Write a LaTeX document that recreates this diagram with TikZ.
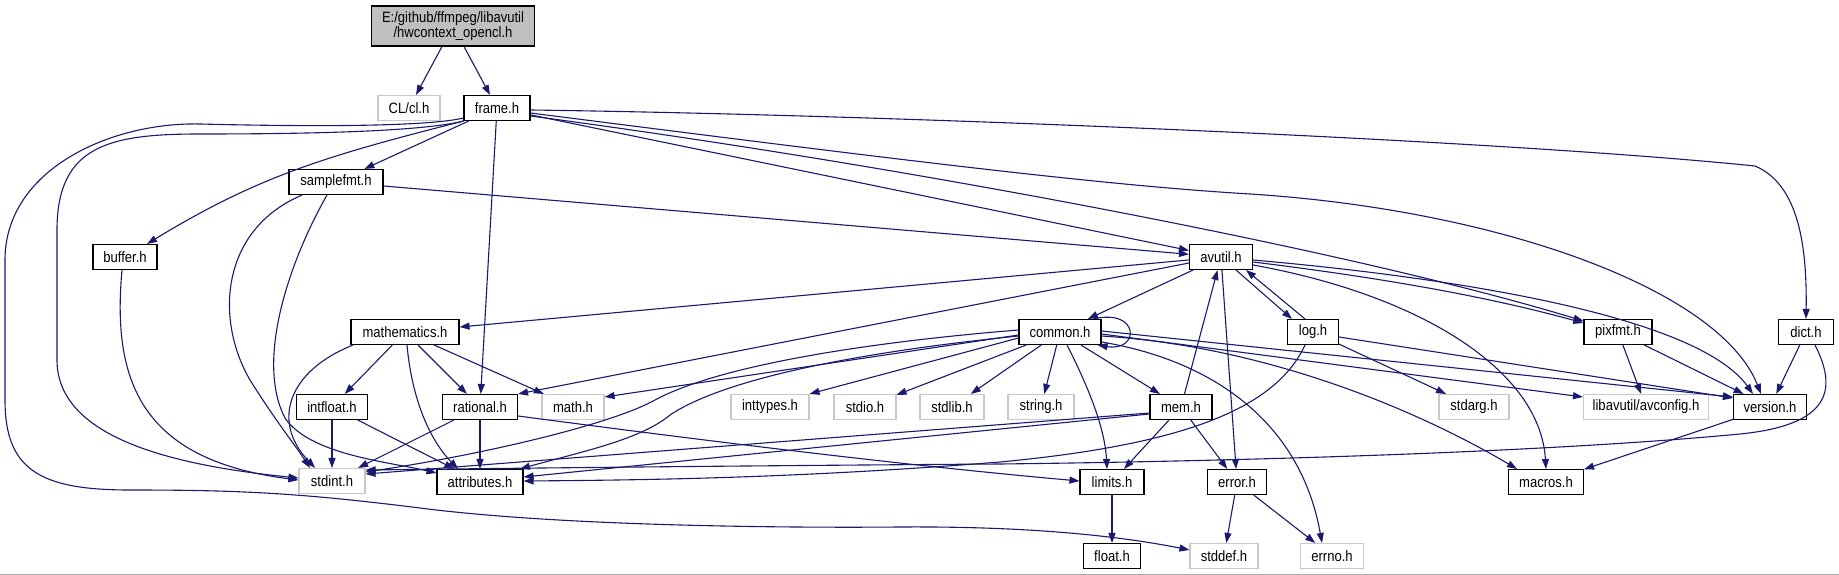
\documentclass[tikz,border=0pt]{standalone}
\usepackage{fontspec}
\setmainfont{Liberation Sans}[FakeStretch=0.87]
\usepackage{tikz}
\usetikzlibrary{arrows.meta}
\definecolor{edgeblue}{RGB}{25,25,112}
\definecolor{extgray}{RGB}{200,200,200}
\definecolor{rootgray}{RGB}{191,191,191}
\definecolor{rulegray}{RGB}{170,170,170}

\begin{document}
\begin{tikzpicture}[x=1pt,y=-1pt,
  every node/.style={font=\fontsize{15}{15}\selectfont,align=center,minimum height=25pt,inner xsep=3pt,inner ysep=0pt,fill=white},
  doc/.style={draw=black,line width=1.1pt},
  ext/.style={draw=extgray,line width=1.1pt},
  dep/.style={draw=edgeblue,line width=1.1pt,-{Triangle[length=10pt,width=7pt]}}]
\useasboundingbox (0,0) rectangle (1839,575);
\fill[white] (0,0) rectangle (1839,575);
\draw[rulegray,line width=1pt] (0,574.5) -- (1839,574.5);

\node[doc,fill=rootgray,minimum width=163pt,minimum height=40pt] (root) at (453,26) {E:/github/ffmpeg/libavutil\\/hwcontext\_opencl.h};
\node[ext,minimum width=62pt] (cl) at (409,108) {CL/cl.h};
\node[doc,minimum width=66pt] (frame) at (497,108) {frame.h};
\node[doc,minimum width=94pt] (samplefmt) at (336,182) {samplefmt.h};
\node[doc,minimum width=64pt] (buffer) at (125,257) {buffer.h};
\node[doc,minimum width=63pt] (avutil) at (1221,257) {avutil.h};
\node[doc,minimum width=108pt] (mathematics) at (405,332) {mathematics.h};
\node[doc,minimum width=82pt] (common) at (1060,332) {common.h};
\node[doc,minimum width=51pt] (logh) at (1313,332) {log.h};
\node[doc,minimum width=68pt] (pixfmt) at (1618,332) {pixfmt.h};
\node[doc,minimum width=55pt] (dict) at (1806,332) {dict.h};
\node[doc,minimum width=71pt] (intfloat) at (332,407) {intfloat.h};
\node[doc,minimum width=75pt] (rational) at (480,407) {rational.h};
\node[ext,minimum width=62pt] (mathh) at (573,407) {math.h};
\node[ext,minimum width=78pt] (inttypes) at (770,407) {inttypes.h};
\node[ext,minimum width=62pt] (stdio) at (865,407) {stdio.h};
\node[ext,minimum width=64pt] (stdlib) at (952,407) {stdlib.h};
\node[ext,minimum width=66pt] (stringh) at (1041,407) {string.h};
\node[doc,minimum width=62pt] (mem) at (1181,407) {mem.h};
\node[ext,minimum width=70pt] (stdarg) at (1474,407) {stdarg.h};
\node[ext,minimum width=125pt] (avconfig) at (1646,407) {libavutil/avconfig.h};
\node[doc,minimum width=73pt] (version) at (1770,407) {version.h};
\node[ext,minimum width=66pt] (stdint) at (332,481) {stdint.h};
\node[doc,minimum width=86pt] (attributes) at (480,482) {attributes.h};
\node[doc,minimum width=64pt] (limits) at (1112,482) {limits.h};
\node[doc,minimum width=59pt] (error) at (1237,482) {error.h};
\node[doc,minimum width=75pt] (macros) at (1546,482) {macros.h};
\node[doc,minimum width=57pt] (floath) at (1112,556) {float.h};
\node[ext,minimum width=68pt] (stddef) at (1224,556) {stddef.h};
\node[ext,minimum width=63pt] (errno) at (1332,556) {errno.h};

\draw[dep] (root) -- (cl);
\draw[dep] (root) -- (frame);
\draw[dep] (frame) -- (samplefmt);
\draw[dep] (frame.south west) .. controls (330,155) and (260,175) .. ([xshift=22pt]buffer.north);
\draw[dep] (frame.south west) .. controls (420,132) and (300,134) .. (200,134) .. controls (110,134) and (57,145) .. (57,230) -- (57,360) .. controls (57,440) and (180,466) .. ([yshift=3pt]stdint.west);
\draw[dep] ([yshift=3pt]frame.south west) .. controls (420,128) and (280,126) .. (200,124) .. controls (110,122) and (5,170) .. (5,260) -- (5,400) .. controls (5,470) and (40,490) .. (130,490) .. controls (240,490) and (300,493) .. (420,508) .. controls (560,526) and (780,528) .. (900,527) .. controls (1040,526) and (1130,538) .. ([yshift=6pt]stddef.west);
\draw[dep] (frame) -- (rational);
\draw[dep] (frame) -- (avutil);
\draw[dep] ([yshift=-8pt]frame.east) .. controls (900,165) and (1350,250) .. ([yshift=11pt]pixfmt.west);
\draw[dep] ([yshift=-5pt]frame.east) .. controls (900,160) and (1100,185) .. (1250,194) .. controls (1500,210) and (1720,290) .. ([xshift=-9pt]version.north);
\draw[dep] ([yshift=-2pt]frame.east) .. controls (900,115) and (1500,140) .. (1755,166) .. controls (1800,185) and (1807,250) .. (dict.north);
\draw[dep] (samplefmt) -- (avutil);
\draw[dep] ([xshift=-34pt]samplefmt.south) .. controls (220,230) and (215,320) .. (250,380) .. controls (275,420) and (295,445) .. ([xshift=-22pt]stdint.north);
\draw[dep] ([xshift=-9pt]samplefmt.south) .. controls (290,260) and (255,360) .. (285,418) .. controls (310,455) and (390,462) .. ([yshift=9pt]attributes.west);
\draw[dep] ([xshift=-3pt]buffer.south) .. controls (112,380) and (140,460) .. ([yshift=1pt]stdint.west);

\draw[dep] (avutil) -- (common);
\draw[dep] (avutil) -- (mathematics);
\draw[dep] ([yshift=-6pt]avutil.west) -- (rational.north east);
\draw[dep] ([xshift=15pt]avutil.south) -- ([xshift=-21pt]logh.north);
\draw[dep] (avutil) -- (error);
\draw[dep] ([yshift=-8pt]avutil.east) .. controls (1420,295) and (1540,370) .. (macros.north);
\draw[dep] ([yshift=-3pt]avutil.east) .. controls (1480,280) and (1700,320) .. ([xshift=-17pt]version.north);
\draw[dep] ([yshift=-5pt]avutil.east) .. controls (1400,280) and (1500,300) .. ([yshift=9pt]pixfmt.west);

\draw[dep] (mathematics) -- (intfloat);
\draw[dep] (mathematics) -- (rational);
\draw[dep] (mathematics) -- (mathh);
\draw[dep] ([xshift=-52pt]mathematics.south) .. controls (290,370) and (270,420) .. ([xshift=-17pt]stdint.north);
\draw[dep] ([xshift=2pt]mathematics.south) .. controls (412,400) and (430,440) .. ([xshift=-22pt]attributes.north);
\draw[dep] (intfloat) -- (stdint);
\draw[dep] (intfloat) -- (attributes);
\draw[dep] (rational) -- (stdint);
\draw[dep] (rational) -- (attributes);
\draw[dep] ([yshift=-9pt]rational.east) .. controls (700,440) and (900,465) .. ([yshift=1pt]limits.west);

\draw[dep] ([xshift=-8pt]common.north east) .. controls (1140,308) and (1140,352) .. ([xshift=-4pt]common.south east);
\draw[dep] ([yshift=-3pt]common.west) -- ([yshift=10pt]mathh.east);
\draw[dep] ([yshift=-6pt]common.west) -- (inttypes.north east);
\draw[dep] (common) -- (stdio);
\draw[dep] (common) -- (stdlib);
\draw[dep] (common) -- (stringh);
\draw[dep] (common) -- (mem);
\draw[dep] ([yshift=2pt]common.west) .. controls (870,342) and (720,365) .. (655,400) .. controls (610,425) and (480,455) .. ([yshift=9pt]stdint.east);
\draw[dep] ([yshift=-4pt]common.west) .. controls (880,350) and (730,375) .. (670,415) .. controls (640,440) and (580,452) .. ([xshift=40pt]attributes.north);
\draw[dep] ([xshift=7pt]common.south) .. controls (1090,390) and (1105,430) .. ([xshift=-5pt]limits.north);
\draw[dep] ([yshift=-4pt]common.east) .. controls (1250,345) and (1400,400) .. ([xshift=-29pt]macros.north);
\draw[dep] ([yshift=1pt]common.east) -- ([yshift=10pt]version.west);
\draw[dep] ([yshift=-2pt]common.east) -- ([yshift=10pt]avconfig.west);
\draw[dep] ([yshift=-10pt]common.east) .. controls (1210,360) and (1300,420) .. ([xshift=-10pt]errno.north);

\draw[dep] (mem) -- (avutil);
\draw[dep] ([yshift=-6pt]mem.west) -- ([yshift=7pt]stdint.east);
\draw[dep] ([yshift=-7pt]mem.west) -- ([yshift=5pt]attributes.east);
\draw[dep] (mem) -- (limits);
\draw[dep] (mem) -- (error);

\draw[dep] ([xshift=-8pt]logh.north) -- ([xshift=25pt]avutil.south);
\draw[dep] (logh) -- (stdarg);
\draw[dep] ([yshift=-5pt]logh.east) -- ([yshift=9pt]version.west);
\draw[dep] ([xshift=-8pt]logh.south) .. controls (1275,410) and (1180,445) .. (1000,462) .. controls (800,478) and (650,480) .. ([yshift=1pt]attributes.east);

\draw[dep] (pixfmt) -- (avconfig);
\draw[dep] (pixfmt) -- (version);
\draw[dep] (dict) -- (version);
\draw[dep] ([xshift=9pt]dict.south) .. controls (1838,390) and (1830,425) .. (1740,434) .. controls (1550,452) and (1250,461) .. (1000,464) .. controls (700,466) and (450,469) .. ([yshift=11pt]stdint.east);
\draw[dep] (version) -- (macros);
\draw[dep] (error) -- (stddef);
\draw[dep] (error) -- (errno);
\draw[dep] (limits) -- (floath);
\end{tikzpicture}
\end{document}
